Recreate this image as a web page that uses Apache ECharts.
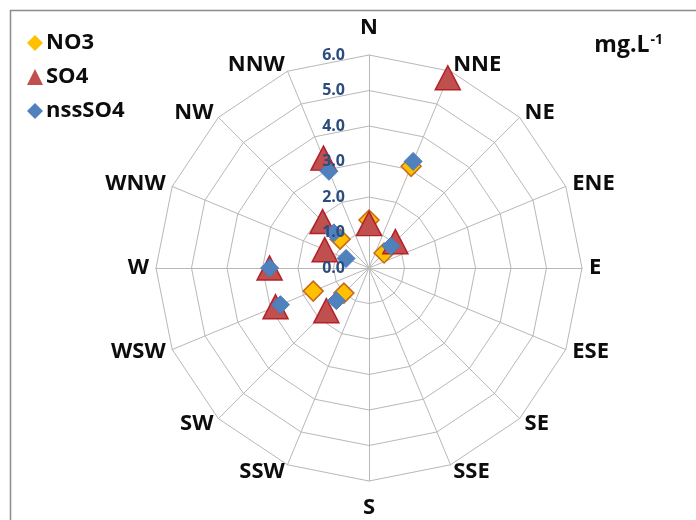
<!DOCTYPE html>
<html>
<head>
<meta charset="utf-8">
<script src="https://cdn.jsdelivr.net/npm/echarts@6/dist/echarts.min.js"></script>
<style>
  html, body { margin: 0; padding: 0; background: #ffffff; }
  #chart { width: 696px; height: 520px; }
</style>
</head>
<body>
<div id="chart"></div>
<script>
// Wind sectors, clockwise from north
const directions = ['N', 'NNE', 'NE', 'ENE', 'E', 'ESE', 'SE', 'SSE',
                    'S', 'SSW', 'SW', 'WSW', 'W', 'WNW', 'NW', 'NNW'];

// Mean concentrations per sector (mg/L); null = no sample in that sector
const no3    = [1.35, 3.1, 0.6, null, null, null, null, null,
                null, null, 1.0, 1.7, null, null, 1.15, null];
const so4    = [1.25, 5.8, 1.05, null, null, null, null, null,
                null, null, 1.7, 2.85, 2.8, 1.35, 1.85, 3.35];
const nssSo4 = [null, 3.25, 0.87, null, null, null, null, null,
                null, null, 1.3, 2.7, 2.8, 0.7, 1.4, 2.95];

// Radial scale
const radiusMin = 0;
const radiusMax = 6;
const radiusStep = 1;

const FONT = 'Open Sans';
const CENTER = [369, 268];
const RADIUS = 213;
const GRID_COLOR = '#B8B8B8';
const TEXT_COLOR = '#0D0D0D';

function toPoints(values) {
  const pts = [];
  values.forEach(function (v, i) {
    if (v !== null) pts.push([v, directions[i]]);
  });
  return pts;
}

// Radar indicators run counter-clockwise, so list the sectors that way
const radarOrder = [directions[0]].concat(directions.slice(1).reverse());

const chart = echarts.init(document.getElementById('chart'), null, { renderer: 'canvas' });

const option = {
  backgroundColor: '#ffffff',
  animation: false,
  title: {
    text: '{u|mg.L}{s|-1}',
    right: 28,
    top: 28,
    textStyle: {
      rich: {
        u: { fontFamily: FONT, fontWeight: 'bold', fontSize: 23, color: TEXT_COLOR, verticalAlign: 'bottom' },
        s: { fontFamily: FONT, fontWeight: 'bold', fontSize: 14, color: TEXT_COLOR, verticalAlign: 'top', padding: [0, 0, 10, 1] }
      }
    }
  },
  legend: {
    left: 22,
    top: 27,
    orient: 'vertical',
    itemGap: 12,
    itemWidth: 16,
    itemHeight: 16,
    textStyle: { fontFamily: FONT, fontWeight: 'bold', fontSize: 22, color: TEXT_COLOR, padding: [0, 0, 0, -2] },
    data: [
      { name: 'NO3', icon: 'diamond', itemStyle: { borderWidth: 0 } },
      { name: 'SO4', icon: 'triangle', itemStyle: { borderWidth: 0 } },
      { name: 'nssSO4', icon: 'diamond', itemStyle: { borderWidth: 0 } }
    ]
  },
  radar: {
    center: CENTER,
    radius: RADIUS,
    startAngle: 90,
    shape: 'polygon',
    splitNumber: 6,
    nameGap: 7,
    indicator: radarOrder.map(function (d) { return { name: d, min: radiusMin, max: radiusMax }; }),
    axisName: {
      color: TEXT_COLOR,
      fontFamily: FONT,
      fontWeight: 'bold',
      fontSize: 22,
      verticalAlign: 'middle',
      formatter: function (name) {
        if (name === 'N') return '{t|N}';
        if (name === 'S') return '{b|S}';
        return name;
      },
      rich: {
        t: { fontFamily: FONT, fontWeight: 'bold', fontSize: 22, color: TEXT_COLOR, padding: [0, 0, 40, 0] },
        b: { fontFamily: FONT, fontWeight: 'bold', fontSize: 22, color: TEXT_COLOR, padding: [40, 0, 0, 0] }
      }
    },
    axisLine: { lineStyle: { color: GRID_COLOR, width: 1 } },
    splitLine: { lineStyle: { color: GRID_COLOR, width: 1 } },
    splitArea: { show: false },
    axisTick: { show: false },
    axisLabel: { show: false }
  },
  polar: {
    center: CENTER,
    radius: RADIUS
  },
  angleAxis: {
    type: 'category',
    data: directions,
    startAngle: 90,
    clockwise: true,
    boundaryGap: false,
    axisLine: { show: false },
    axisTick: { show: false },
    axisLabel: { show: false },
    splitLine: { show: false }
  },
  radiusAxis: {
    type: 'value',
    min: radiusMin,
    max: radiusMax,
    interval: radiusStep,
    z: 10,
    axisLine: { show: false },
    axisTick: { show: false },
    splitLine: { show: false },
    axisLabel: {
      margin: 24,
      fontFamily: FONT,
      fontWeight: 'bold',
      fontSize: 16,
      color: '#2B4C7E',
      formatter: function (v) { return v.toFixed(1); }
    }
  },
  series: [
    {
      name: 'NO3',
      type: 'scatter',
      coordinateSystem: 'polar',
      symbol: 'diamond',
      symbolSize: 20,
      itemStyle: { color: '#FFC000', borderColor: '#C66A1A', borderWidth: 1.5, opacity: 1 },
      data: toPoints(no3)
    },
    {
      name: 'SO4',
      type: 'scatter',
      coordinateSystem: 'polar',
      symbol: 'triangle',
      symbolSize: [25, 24],
      itemStyle: { color: '#C0504D', borderColor: '#B3202A', borderWidth: 1.5, opacity: 1 },
      data: toPoints(so4)
    },
    {
      name: 'nssSO4',
      type: 'scatter',
      coordinateSystem: 'polar',
      symbol: 'diamond',
      symbolSize: 18,
      itemStyle: { color: '#4F81BD', borderColor: '#4A7BC0', borderWidth: 1, opacity: 1 },
      data: toPoints(nssSo4)
    }
  ],
  graphic: [
    {
      type: 'rect',
      left: 8,
      top: 8,
      shape: { width: 720, height: 540 },
      style: { fill: 'none', stroke: '#8C8C8C', lineWidth: 1.5 },
      silent: true
    }
  ]
};

chart.setOption(option);
</script>
</body>
</html>
